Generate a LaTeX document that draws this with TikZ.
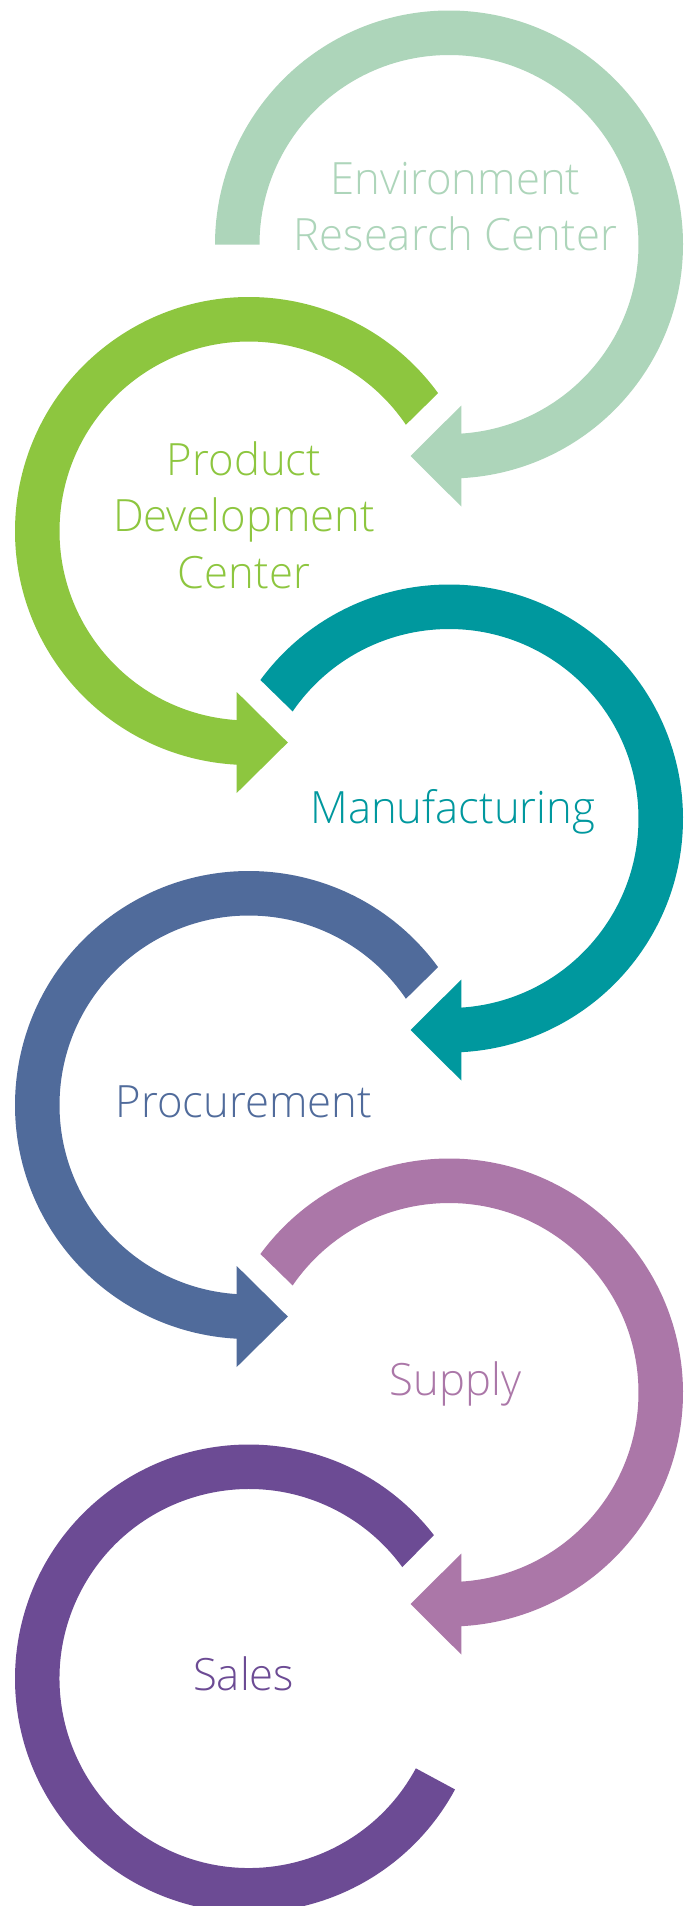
\documentclass[tikz,border=0pt]{standalone}
\usepackage{fontspec}
\setmainfont{Open Sans Light}[FakeStretch=0.98]
\definecolor{cEnv}{HTML}{ADD5BA}
\definecolor{cProd}{HTML}{8DC63F}
\definecolor{cManu}{HTML}{00989E}
\definecolor{cProc}{HTML}{506B9B}
\definecolor{cSupp}{HTML}{AB77A8}
\definecolor{cSales}{HTML}{6C4B94}
\tikzset{
  lbl/.style={inner sep=0pt, outer sep=0pt, align=center, anchor=base,
    font=\fontsize{44.5}{56.5}\selectfont},
  band/.style={fill=#1, draw=none}
}
% right arc (clockwise, arrow pointing left) ; #1 colour, #2 centre x, #3 centre y, #4 start outer angle, #5 start inner angle
\newcommand{\rightarc}[5]{%
  \fill[#1] ($(#2,#3)+(#4:234)$) arc[start angle=#4, end angle=-86.99, radius=234]
    -- ($(#2,#3)+(12.3,-262)$) -- ($(#2,#3)+(-38.4,-211.5)$) -- ($(#2,#3)+(12.3,-161)$)
    -- ($(#2,#3)+(-86.28:189.5)$) arc[start angle=-86.28, end angle=#5, radius=189.5] -- cycle;}
\newcommand{\leftarc}[5]{%
  \fill[#1] ($(#2,#3)+(#4:234)$) arc[start angle=#4, end angle=266.99, radius=234]
    -- ($(#2,#3)+(-12.3,-262)$) -- ($(#2,#3)+(38.8,-211.5)$) -- ($(#2,#3)+(-12.3,-161)$)
    -- ($(#2,#3)+(266.28:189.5)$) arc[start angle=266.28, end angle=#5, radius=189.5] -- cycle;}
\usetikzlibrary{calc}
\begin{document}
\begin{tikzpicture}[x=1pt,y=1pt]
\clip (0,0) rectangle (694,-1906);
\fill[white] (0,0) rectangle (694,-1906);
% arcs
\rightarc{cEnv}{449}{-244.5}{180}{180}
\leftarc{cProd}{249}{-531}{36.1}{34.1}
\rightarc{cManu}{449}{-818.5}{143.7}{145.6}
\leftarc{cProc}{249}{-1105}{36.1}{34.1}
\rightarc{cSupp}{449}{-1392.5}{143.7}{145.6}
\fill[cSales] ($(249,-1678.5)+(37.8:234)$) arc[start angle=37.8, end angle=331.7, radius=234]
  -- ($(249,-1678.5)+(331.7:189.5)$) arc[start angle=331.7, end angle=36, radius=189.5] -- cycle;
% labels (anchor base = baseline of the last line)
\node[lbl, text=cEnv] (env) at (455.5,-250.7) {Environment\\Research Center};
\node[lbl, text=cProd] (prod) at (244,-588.3) {Product\\Development\\Center};
\node[lbl, text=cManu] (manu) at (452.8,-823.3) {Manufacturing};
\node[lbl, text=cProc] (proc) at (244,-1117.7) {Procurement};
\node[lbl, text=cSupp] (supp) at (455.5,-1395.7) {Supply};
\node[lbl, text=cSales] (sales) at (243.7,-1690) {Sales};
\end{tikzpicture}
\end{document}
